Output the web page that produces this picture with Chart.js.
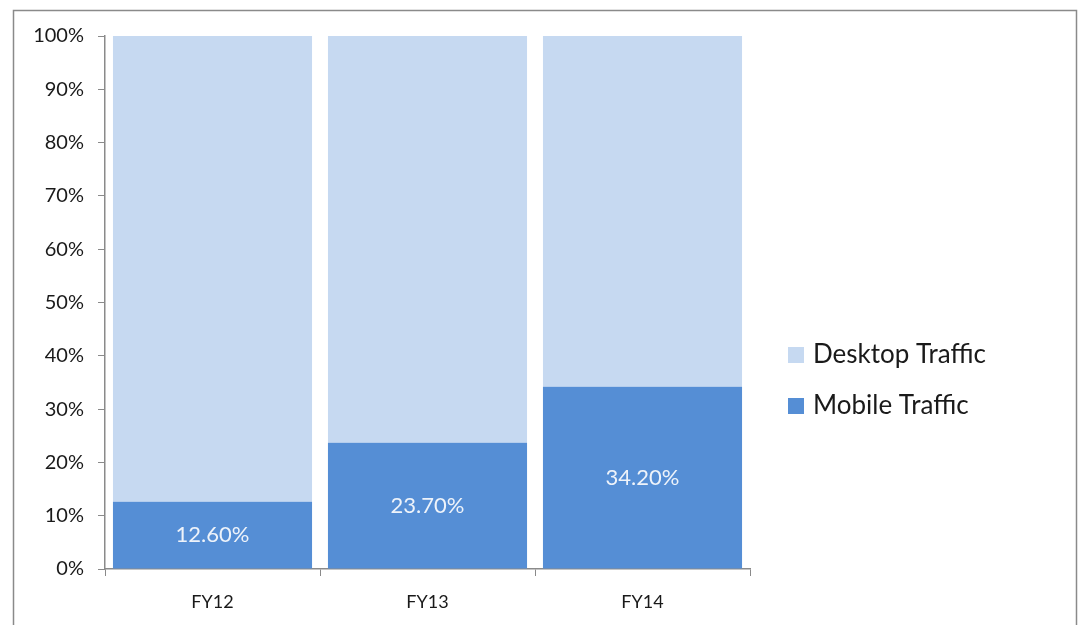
<!DOCTYPE html>
<html>
<head>
<meta charset="utf-8">
<script src="https://cdn.jsdelivr.net/npm/chart.js@4"></script>
<style>
  html, body { margin: 0; padding: 0; background: #fff; }
  #wrap { position: relative; width: 1082px; height: 625px; }
</style>
</head>
<body>
<div id="wrap"><canvas id="trafficChart" width="1082" height="625"></canvas></div>
<script>
const years = ['FY12', 'FY13', 'FY14'];
const mobileShare = [12.6, 23.7, 34.2];
const desktopShare = [87.4, 76.3, 65.8];
const seriesNames = ['Mobile Traffic', 'Desktop Traffic'];
const seriesColors = ['#558ED5', '#C6D9F1'];

const FONT = 'Lato, "Open Sans", sans-serif';

// frame around the whole chart + the labels inside the mobile bars + legend
const extras = {
  id: 'extras',
  beforeDraw(chart) {
    const c = chart.ctx;
    c.save();
    c.fillStyle = '#fff';
    c.fillRect(0, 0, chart.width, chart.height);
    c.strokeStyle = '#8a8a8a';
    c.lineWidth = 1.5;
    c.strokeRect(13.5, 10.5, 1063, 640);
    c.restore();
  },
  afterDatasetsDraw(chart) {
    const c = chart.ctx;
    const meta = chart.getDatasetMeta(0);
    c.save();
    c.font = '22px ' + FONT;
    c.fillStyle = '#EEF3FA';
    c.textAlign = 'center';
    c.textBaseline = 'middle';
    meta.data.forEach((bar, i) => {
      const mid = (bar.y + bar.base) / 2;
      c.fillText(mobileShare[i].toFixed(2) + '%', bar.x, mid);
    });
    c.restore();
  },
  afterDraw(chart) {
    const c = chart.ctx;
    c.save();
    c.font = '26px ' + FONT;
    c.textBaseline = 'middle';
    const order = [1, 0];
    order.forEach((di, k) => {
      const y = 355 + k * 51;
      c.fillStyle = chart.data.datasets[di].backgroundColor;
      c.fillRect(788, y - 8, 16, 16);
      c.fillStyle = '#1a1a1a';
      c.fillText(chart.data.datasets[di].label, 813, y);
    });
    c.restore();
  }
};

new Chart(document.getElementById('trafficChart'), {
  type: 'bar',
  data: {
    labels: years,
    datasets: [
      { label: seriesNames[0], data: mobileShare, backgroundColor: seriesColors[0] },
      { label: seriesNames[1], data: desktopShare, backgroundColor: seriesColors[1] }
    ]
  },
  options: {
    responsive: false,
    animation: false,
    layout: { padding: { left: 0, top: 36, right: 332, bottom: 0 } },
    categoryPercentage: 1,
    barPercentage: 0.926,
    plugins: { legend: { display: false }, tooltip: { enabled: false } },
    scales: {
      x: {
        stacked: true,
        grid: { drawOnChartArea: false, drawTicks: true, tickLength: 7, color: '#8a8a8a' },
        border: { color: '#8a8a8a', width: 1.5 },
        ticks: { font: { family: FONT, size: 18 }, color: '#1a1a1a', padding: 15 },
        afterFit(scale) { scale.height = 56; }
      },
      y: {
        stacked: true,
        min: 0,
        max: 100,
        grid: { drawOnChartArea: false, drawTicks: true, tickLength: 7, color: '#8a8a8a' },
        border: { color: '#8a8a8a', width: 1.5 },
        ticks: {
          stepSize: 10,
          font: { family: FONT, size: 20 },
          color: '#1a1a1a',
          padding: 14,
          callback: v => v + '%'
        },
        afterFit(scale) { scale.width = 105; }
      }
    }
  },
  plugins: [extras]
});
</script>
</body>
</html>
